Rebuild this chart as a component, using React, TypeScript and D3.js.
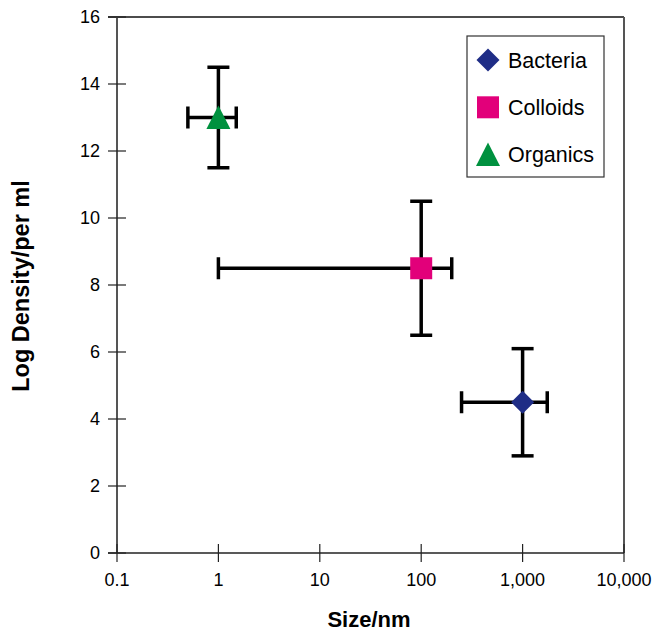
import React from "react";
import * as d3 from "d3";

const series = ["Bacteria", "Colloids", "Organics"];
const xValues = [1000, 100, 1];
const yValues = [4.5, 8.5, 13];
const xLow = [250, 1, 0.5];
const xHigh = [1750, 200, 1.5];
const yLow = [2.9, 6.5, 11.5];
const yHigh = [6.1, 10.5, 14.5];
const colors = ["#1f2d86", "#e2007a", "#00913f"];
const shapes = ["diamond", "square", "triangle"];
const xTicks = [0.1, 1, 10, 100, 1000, 10000];
const yTicks = [0, 2, 4, 6, 8, 10, 12, 14, 16];

const W = 652, H = 632;
const L = 117, R = 624, T = 17, B = 553;

function markerPath(shape: string): string {
  if (shape === "diamond") return "M0,-11.5L11.5,0L0,11.5L-11.5,0Z";
  if (shape === "square") return "M-11,-11H11V11H-11Z";
  return "M0,-12L12,11.5L-12,11.5Z";
}

export default function App() {
  const x = d3.scaleLog().domain([0.1, 10000]).range([L, R]);
  const y = d3.scaleLinear().domain([0, 16]).range([B, T]);
  const fmt = d3.format(",");
  const font = "Liberation Sans, Arial, sans-serif";
  const cap = 11;
  const lg = { x0: 467, y0: 36, x1: 604, y1: 177 };
  return (
    <svg width={W} height={H} style={{ position: "absolute", left: 0, top: 0, background: "#fff" }} fontFamily={font}>
      <rect x={0} y={0} width={W} height={H} fill="#fff" />
      {/* frame */}
      <line x1={L - 9} x2={R} y1={T} y2={T} stroke="#111" strokeWidth={1.5} />
      <line x1={R} x2={R} y1={T} y2={B} stroke="#555" strokeWidth={2} />
      <line x1={L} x2={L} y1={T} y2={B} stroke="#555" strokeWidth={2} />
      <line x1={L - 9} x2={R} y1={B} y2={B} stroke="#222" strokeWidth={1.5} />
      {/* y ticks */}
      {yTicks.map((t) => (
        <g key={"y" + t}>
          <line x1={L - 9} x2={L + 9} y1={y(t)} y2={y(t)} stroke="#222" strokeWidth={1.2} />
          <text x={100} y={y(t) + 6} textAnchor="end" fontSize={18} fill="#000">{t}</text>
        </g>
      ))}
      {/* x ticks */}
      {xTicks.map((t) => (
        <g key={"x" + t}>
          <line x1={x(t)} x2={x(t)} y1={B - 9} y2={B + 9} stroke="#222" strokeWidth={1.2} />
          <text x={x(t)} y={586} textAnchor="middle" fontSize={18} fill="#000">{fmt(t)}</text>
        </g>
      ))}
      {/* axis titles */}
      <text x={369} y={627} textAnchor="middle" fontSize={22} fontWeight="bold" fill="#000">Size/nm</text>
      <text transform={`translate(29,286) rotate(-90)`} textAnchor="middle" fontSize={23.5} fontWeight="bold" fill="#000">Log Density/per ml</text>
      {/* error bars */}
      {series.map((s, i) => {
        const cx = x(xValues[i]);
        const cy = y(yValues[i]);
        const xl = x(xLow[i]);
        const xh = x(xHigh[i]);
        const yl = y(yLow[i]);
        const yh = y(yHigh[i]);
        return (
          <g key={"e" + s} stroke="#000" strokeWidth={3.5} fill="none">
            <line x1={xl} x2={xh} y1={cy} y2={cy} />
            <line x1={xl} x2={xl} y1={cy - cap} y2={cy + cap} />
            <line x1={xh} x2={xh} y1={cy - cap} y2={cy + cap} />
            <line x1={cx} x2={cx} y1={yl} y2={yh} />
            <line x1={cx - cap} x2={cx + cap} y1={yl} y2={yl} />
            <line x1={cx - cap} x2={cx + cap} y1={yh} y2={yh} />
          </g>
        );
      })}
      {/* markers */}
      {series.map((s, i) => (
        <path key={"m" + s} d={markerPath(shapes[i])} transform={`translate(${x(xValues[i])},${y(yValues[i])})`} fill={colors[i]} />
      ))}
      {/* legend */}
      <rect x={lg.x0} y={lg.y0} width={lg.x1 - lg.x0} height={lg.y1 - lg.y0} fill="#fff" stroke="#333" strokeWidth={1.2} />
      {series.map((s, i) => {
        const cy = 60 + i * 47.3;
        return (
          <g key={"l" + s}>
            <path d={markerPath(shapes[i])} transform={`translate(488,${cy})`} fill={colors[i]} />
            <text x={508} y={cy + 7.7} fontSize={21.5} fill="#000">{s}</text>
          </g>
        );
      })}
    </svg>
  );
}
